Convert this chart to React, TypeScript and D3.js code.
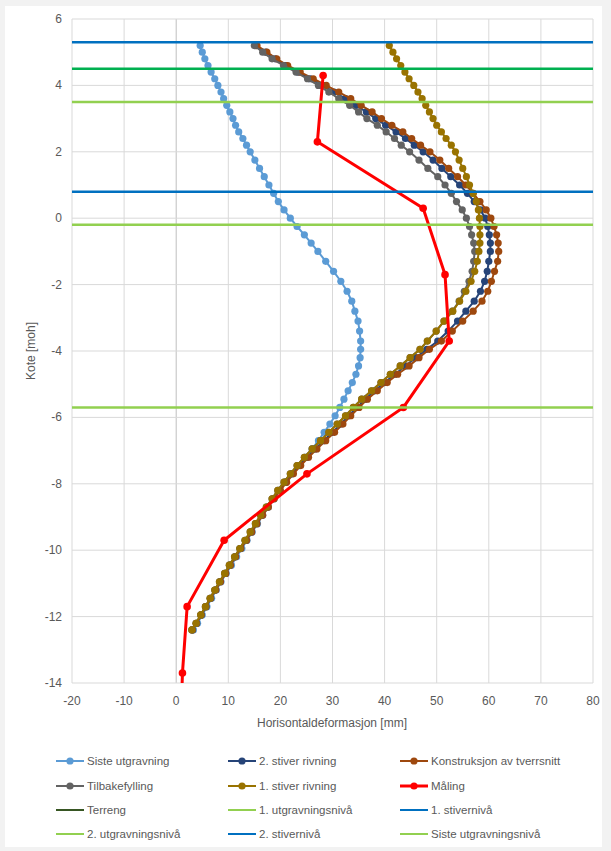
import React from "react";
import * as d3 from "d3";

// node elevations (moh) shared by the FE results
const kote = [
  5.2, 5.0, 4.8, 4.6, 4.4, 4.2, 4.0, 3.8, 3.6, 3.4,
  3.2, 3.0, 2.8, 2.6, 2.4, 2.2, 2.0,
  1.75, 1.5, 1.25, 1.0, 0.75, 0.5, 0.25, 0.0,
  -0.25, -0.5, -0.75, -1.0,
  -1.3, -1.6, -1.9, -2.2, -2.5, -2.8, -3.1, -3.4, -3.7,
  -3.95, -4.2, -4.45, -4.7, -4.95, -5.2, -5.45, -5.7, -5.95, -6.2,
  -6.45, -6.7, -6.95, -7.2, -7.45, -7.7, -7.95, -8.2, -8.45, -8.7,
  -8.95, -9.2, -9.45, -9.7, -9.95, -10.2, -10.45, -10.7, -10.95, -11.2,
  -11.45, -11.7, -11.95, -12.2, -12.4,
];

const sisteUtgravning = [
  4.6, 5.0, 5.5, 6.1, 6.7, 7.4, 8.0, 8.6, 9.1, 9.7,
  10.3, 10.9, 11.4, 12.0, 12.8, 13.5, 14.2,
  15.1, 16.0, 16.9, 17.8, 18.7, 19.6, 20.7, 21.9,
  23.2, 24.6, 25.9, 27.2,
  28.7, 30.2, 31.6, 32.8, 33.7, 34.3, 34.9, 35.2, 35.4,
  35.4, 35.3, 35.0, 34.5, 33.8, 33.0, 32.2, 31.4, 30.5, 29.5,
  28.4, 27.3, 26.1, 24.8, 23.5, 22.2, 21.0, 19.9, 18.8, 17.7,
  16.6, 15.6, 14.6, 13.6, 12.6, 11.6, 10.6, 9.6, 8.6, 7.7,
  6.8, 5.9, 5.0, 4.1, 3.3,
];

const stiver2Rivning = [
  15.3, 17.2, 19.0, 21.0, 23.4, 25.7, 28.1, 30.3, 32.5, 34.5,
  36.5, 38.3, 40.2, 42.2, 44.0, 45.7, 47.4,
  49.3, 51.0, 52.7, 54.4, 55.9, 57.2, 58.4, 59.3,
  59.8, 60.1, 60.3, 60.3,
  60.0, 59.7, 59.2, 58.4, 57.2, 55.6, 54.0, 52.2, 50.2,
  48.1, 46.0, 44.0, 42.0, 40.0, 38.1, 36.3, 34.7, 33.1, 31.6,
  30.0, 28.3, 26.7, 25.1, 23.6, 22.2, 21.0, 19.8, 18.6, 17.5,
  16.4, 15.4, 14.4, 13.4, 12.3, 11.3, 10.3, 9.4, 8.4, 7.5,
  6.6, 5.7, 4.8, 3.9, 3.1,
];

const konstruksjon = [
  15.5, 17.4, 19.3, 21.4, 23.8, 26.3, 28.8, 31.2, 33.5, 35.5,
  37.6, 39.4, 41.4, 43.5, 45.2, 46.9, 48.7,
  50.6, 52.3, 54.0, 55.6, 57.0, 58.3, 59.5, 60.4,
  61.0, 61.5, 61.8, 61.9,
  61.7, 61.1, 60.5, 59.8, 58.7, 57.0, 55.0, 53.0, 50.9,
  48.6, 46.6, 44.7, 42.5, 40.5, 38.6, 36.7, 35.1, 33.5, 32.0,
  30.4, 28.7, 27.0, 25.4, 23.9, 22.5, 21.2, 20.0, 18.8, 17.7,
  16.6, 15.5, 14.5, 13.5, 12.4, 11.4, 10.4, 9.5, 8.5, 7.6,
  6.6, 5.7, 4.8, 3.9, 3.1,
];

const tilbakefylling = [
  15.0, 16.6, 18.4, 20.6, 23.0, 25.2, 27.3, 29.3, 31.2, 33.3,
  35.0, 36.6, 38.6, 40.3, 41.9, 43.2, 44.8,
  46.6, 48.3, 50.2, 51.6, 52.8, 53.8, 54.9, 55.7,
  56.3, 56.7, 57.1, 57.3,
  57.1, 56.8, 56.2, 55.3, 54.3, 53.0, 51.4, 49.9, 48.2,
  46.8, 44.9, 43.0, 41.1, 39.3, 37.5, 35.6, 34.0, 32.5, 30.9,
  29.3, 27.7, 26.1, 24.6, 23.2, 21.9, 20.7, 19.5, 18.4, 17.3,
  16.2, 15.2, 14.2, 13.2, 12.2, 11.2, 10.2, 9.3, 8.3, 7.4,
  6.5, 5.6, 4.7, 3.8, 3.0,
];

const stiver1Rivning = [
  40.9, 41.6, 42.3, 43.1, 43.9, 44.7, 45.6, 46.4, 47.2, 47.9,
  48.6, 49.3, 50.0, 50.9, 51.8, 52.8, 53.6,
  54.3, 55.0, 55.7, 56.3, 57.0, 57.6, 58.0, 58.2,
  58.3, 58.3, 58.3, 58.1,
  57.8, 57.3, 56.6, 55.6, 54.4, 53.1, 51.4, 49.9, 48.2,
  46.8, 44.9, 43.0, 41.1, 39.3, 37.5, 35.6, 34.0, 32.5, 30.9,
  29.3, 27.7, 26.1, 24.6, 23.2, 21.9, 20.7, 19.5, 18.4, 17.3,
  16.2, 15.2, 14.2, 13.2, 12.2, 11.2, 10.2, 9.3, 8.3, 7.4,
  6.5, 5.6, 4.7, 3.8, 3.0,
];

// measured inclinometer
const maalingKote = [4.3, 2.3, 0.3, -1.7, -3.7, -5.7, -7.7, -9.7, -11.7, -13.7, -15.7];
const maaling = [28.2, 27.1, 47.4, 51.6, 52.4, 43.6, 25.1, 9.2, 2.1, 1.2, 0.8];

const levelNames = [
  "Terreng",
  "1. utgravningsnivå",
  "1. stivernivå",
  "2. utgravningsnivå",
  "2. stivernivå",
  "Siste utgravningsnivå",
];
const levelKote = [4.5, 3.5, 5.3, -0.2, 0.8, -5.7];
const levelColors = ["#00b050", "#92d050", "#0070c0", "#92d050", "#0070c0", "#92d050"];

const xTicks = [-20, -10, 0, 10, 20, 30, 40, 50, 60, 70, 80];
const yTicks = [6, 4, 2, 0, -2, -4, -6, -8, -10, -12, -14];

const series = [
  { name: "Siste utgravning", values: sisteUtgravning, color: "#5b9bd5" },
  { name: "2. stiver rivning", values: stiver2Rivning, color: "#264478" },
  { name: "Konstruksjon av tverrsnitt", values: konstruksjon, color: "#9e480e" },
  { name: "Tilbakefylling", values: tilbakefylling, color: "#636363" },
  { name: "1. stiver rivning", values: stiver1Rivning, color: "#997300" },
];

const W = 611;
const H = 851;
const FONT = "'Liberation Sans', Arial, sans-serif";

export default function App() {
  const x = d3.scaleLinear().domain([-20, 80]).range([72, 593]);
  const y = d3.scaleLinear().domain([-14, 6]).range([683, 19]);
  const line = d3
    .line<[number, number]>()
    .x((d) => x(d[0]))
    .y((d) => y(d[1]));

  const legendItems = [
    ...series.map((s) => ({ name: s.name, color: s.color, marker: true, width: 2 })),
    { name: "Måling", color: "#ff0000", marker: true, width: 3 },
    ...levelNames.map((n, i) => ({
      name: n,
      color: i === 0 ? "#375623" : levelColors[i],
      marker: false,
      width: 2,
    })),
  ];
  const colX = [56, 228, 400];
  const rowY = [761, 786, 810, 834];

  return (
    <svg
      width={W}
      height={H}
      style={{ position: "absolute", left: 0, top: 0, fontFamily: FONT }}
    >
      <rect x={0} y={0} width={W} height={H} fill="#f2f2f2" />
      <rect x={5} y={6} width={597} height={841} fill="#ffffff" />
      <defs>
        <clipPath id="plot">
          <rect x={72} y={19} width={521} height={664} />
        </clipPath>
      </defs>

      {/* grid */}
      {xTicks.map((t) => (
        <line
          key={"gx" + t}
          x1={x(t)}
          x2={x(t)}
          y1={y(6)}
          y2={y(-14)}
          stroke={t === 0 ? "#bfbfbf" : "#d9d9d9"}
          strokeWidth={1}
        />
      ))}
      {yTicks.map((t) => (
        <line
          key={"gy" + t}
          x1={x(-20)}
          x2={x(80)}
          y1={y(t)}
          y2={y(t)}
          stroke="#d9d9d9"
          strokeWidth={1}
        />
      ))}

      <g clipPath="url(#plot)">
        {series.map((s) => {
          const pts = s.values.map((v, i) => [v, kote[i]] as [number, number]);
          return (
            <g key={s.name}>
              <path d={line(pts) || ""} fill="none" stroke={s.color} strokeWidth={2} />
              {pts.map((p, i) => (
                <circle key={i} cx={x(p[0])} cy={y(p[1])} r={3.6} fill={s.color} />
              ))}
            </g>
          );
        })}
        {(() => {
          const pts = maaling.map((v, i) => [v, maalingKote[i]] as [number, number]);
          return (
            <g>
              <path d={line(pts) || ""} fill="none" stroke="#ff0000" strokeWidth={3} />
              {pts.map((p, i) => (
                <circle key={i} cx={x(p[0])} cy={y(p[1])} r={3.8} fill="#ff0000" />
              ))}
            </g>
          );
        })()}
        {levelKote.map((k, i) => (
          <line
            key={"lv" + i}
            x1={x(-20)}
            x2={x(80)}
            y1={y(k)}
            y2={y(k)}
            stroke={levelColors[i]}
            strokeWidth={2.5}
          />
        ))}
      </g>

      {/* tick labels */}
      {xTicks.map((t) => (
        <text
          key={"tx" + t}
          x={x(t)}
          y={705}
          textAnchor="middle"
          fontSize={12}
          fill="#595959"
        >
          {t}
        </text>
      ))}
      {yTicks.map((t) => (
        <text
          key={"ty" + t}
          x={62}
          y={y(t) + 4}
          textAnchor="end"
          fontSize={12}
          fill="#595959"
        >
          {t}
        </text>
      ))}

      <text x={332} y={727} textAnchor="middle" fontSize={12} fill="#595959">
        Horisontaldeformasjon [mm]
      </text>
      <text
        transform={`translate(35,${(19 + 683) / 2}) rotate(-90)`}
        textAnchor="middle"
        fontSize={12}
        fill="#595959"
      >
        Kote [moh]
      </text>

      {/* legend */}
      {legendItems.map((item, i) => {
        const cx = colX[i % 3];
        const cy = rowY[Math.floor(i / 3)];
        return (
          <g key={item.name}>
            <line
              x1={cx}
              x2={cx + 28}
              y1={cy}
              y2={cy}
              stroke={item.color}
              strokeWidth={item.width}
            />
            {item.marker && <circle cx={cx + 14} cy={cy} r={3.6} fill={item.color} />}
            <text x={cx + 31} y={cy + 4} fontSize={11.5} fill="#595959">
              {item.name}
            </text>
          </g>
        );
      })}
    </svg>
  );
}
